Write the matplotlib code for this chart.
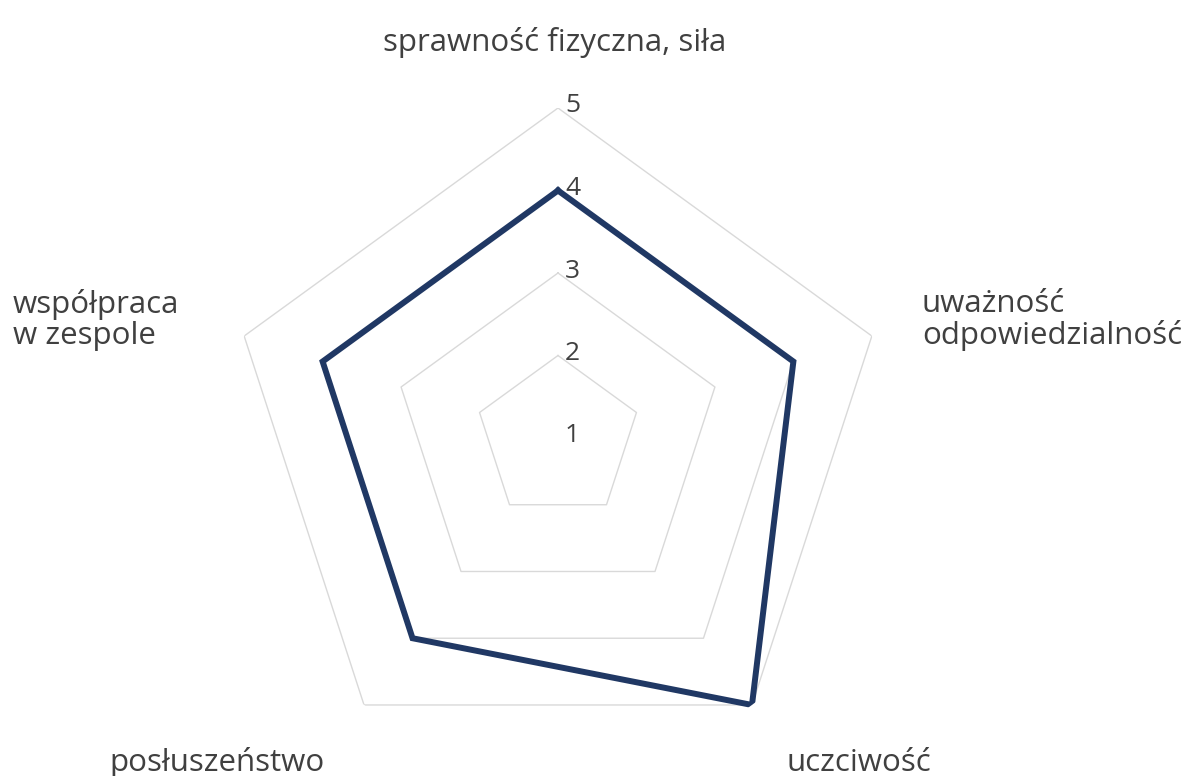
import numpy as np
import matplotlib
matplotlib.use("Agg")
import matplotlib.pyplot as plt
from matplotlib.transforms import offset_copy

categories = ["sprawność fizyczna, siła", "uważność\nodpowiedzialność", "uczciwość",
              "posłuszeństwo", "współpraca\nw zespole"]
values = [4, 4, 5, 4, 4]
ticks = [1, 2, 3, 4, 5]

plt.rcParams['font.family'] = ['Open Sans', 'DejaVu Sans']
text_color = "#404040"

W, H = 1197, 776
fig = plt.figure(figsize=(W / 100, H / 100), dpi=100)
cx, cy, R = 558, 438, 330
ax = fig.add_axes([(cx - R) / W, 1 - (cy + R) / H, 2 * R / W, 2 * R / H], projection='polar')
ax.set_theta_offset(np.pi / 2)
ax.set_theta_direction(-1)
ax.set_ylim(ticks[0], ticks[-1])
ax.grid(False)
ax.spines['polar'].set_visible(False)
ax.set_xticks([])
ax.set_yticks([])
ax.patch.set_alpha(0)

n = len(categories)
angles = np.linspace(0, 2 * np.pi, n, endpoint=False)
ang_c = np.append(angles, angles[0])

for t in ticks[1:]:
    ax.plot(ang_c, [t] * (n + 1), color="#d9d9d9", lw=1.0, zorder=1)

tick_tr = offset_copy(ax.transData, fig=fig, x=7, y=2, units='dots')
for t in ticks:
    ax.text(0, t, str(t), transform=tick_tr, ha='left', va='center',
            fontsize=19, color=text_color, zorder=3)

vals = values + values[:1]
ax.plot(ang_c, vals, color="#203864", lw=4.3, zorder=2, solid_joinstyle='miter')

label_pos = [(555, 42, 'center'), (922, 320, 'left'), (859, 763, 'center'),
             (217, 762, 'center'), (13, 320, 'left')]
for lab, (x, y, ha) in zip(categories, label_pos):
    fig.text(x / W, 1 - y / H, lab, ha=ha, va='center', fontsize=22.5,
             color=text_color, linespacing=1.05)

fig.savefig("out.png", dpi=100)
